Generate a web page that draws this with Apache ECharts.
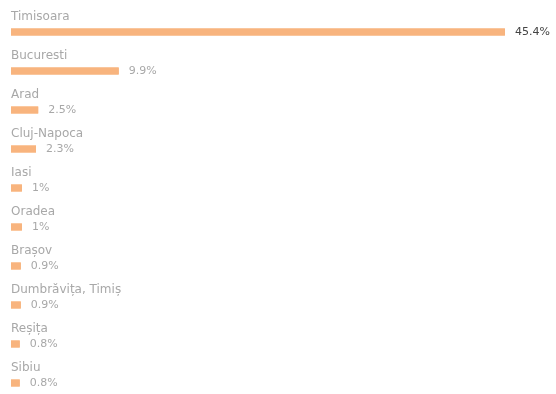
<!DOCTYPE html>
<html><head><meta charset="utf-8">
<script src="https://cdn.jsdelivr.net/npm/echarts@6/dist/echarts.min.js"></script>
<style>html,body{margin:0;padding:0;background:#fff}#c{width:556px;height:394px}</style>
</head><body><div id="c"></div>
<script>
const categories = ["Timisoara","Bucuresti","Arad","Cluj-Napoca","Iasi","Oradea","Brașov","Dumbrăvița, Timiș","Reșița","Sibiu"];
const values = [45.4, 9.9, 2.5, 2.3, 1, 1, 0.9, 0.9, 0.8, 0.8];

const chart = echarts.init(document.getElementById('c'));
const font = '"DejaVu Sans", sans-serif';
chart.setOption({
  animation: false,
  grid: {left: 11, right: 1, top: 32, bottom: 11, containLabel: false},
  xAxis: {type: 'value', min: 0, max: 50, show: false},
  yAxis: {type: 'category', data: categories, inverse: true, show: false, boundaryGap: false},
  series: [
    {
      type: 'bar', data: values, barWidth: 7, silent: true,
      itemStyle: {color: '#f8b47e'},
      label: {show: true, position: [0, -18], align: 'left', verticalAlign: 'top',
        formatter: p => p.name, color: '#a8a8a8', fontSize: 12, fontFamily: font}
    },
    {
      type: 'bar', barWidth: 7, barGap: '-100%', silent: true,
      itemStyle: {color: '#f8b47e'},
      label: {show: true, position: 'right', distance: 10,
        formatter: p => p.value + '%', fontSize: 11, fontFamily: font,
        color: '#a8a8a8'},
      data: values.map((v, i) => ({value: v, label: i === 0 ? {color: '#444'} : {}}))
    }
  ]
});
</script></body></html>
